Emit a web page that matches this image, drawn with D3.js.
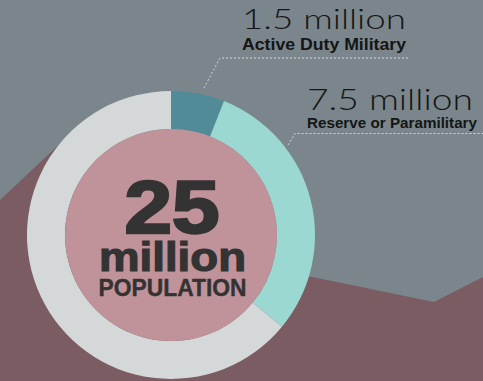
<!DOCTYPE html>
<html>
<head>
<meta charset="utf-8">
<script src="https://cdn.jsdelivr.net/npm/d3@7"></script>
<style>
  html, body { margin: 0; padding: 0; background: #7a868b; }
  svg { display: block; }
</style>
</head>
<body>
<svg id="chart" width="483" height="381"></svg>
<script>
// ---- data ----
const categories = ["Active Duty Military", "Reserve or Paramilitary", "Rest of Population"];
const values = [1.5, 7.5, 16];
const valueLabels = ["1.5 million", "7.5 million"];
const totalValue = "25";
const totalUnit = "million";
const totalLabel = "POPULATION";
const colors = ["#528b98", "#9bd8d2", "#d4d8d9"];

// ---- layout ----
const W = 483, H = 381;
const cx = 171, cy = 235, rOuter = 144, rInner = 106;
const svg = d3.select("#chart");

// background landscape shape
const landPts = [[0, 200], [75, 129.5], [171, 235], [305, 275.6], [434, 302], [483, 277], [483, 381], [0, 381]];
svg.append("rect").attr("width", W).attr("height", H).attr("fill", "#7a868b");
svg.append("path").attr("d", d3.line()(landPts) + "Z").attr("fill", "#7b5c62");

const g = svg.append("g").attr("transform", `translate(${cx},${cy})`);

const pie = d3.pie().sort(null).value(d => d)(values);
const arc = d3.arc().innerRadius(rInner).outerRadius(rOuter);

g.selectAll("path.slice").data(pie).join("path")
  .attr("class", "slice")
  .attr("d", arc)
  .attr("fill", (d, i) => colors[i]);

g.append("circle").attr("r", rInner).attr("fill", "#c0939a");

// center text
const dark = "#333333";
g.append("text").text(totalValue)
  .attr("x", 1).attr("y", -2)
  .attr("text-anchor", "middle")
  .attr("font-family", "Liberation Sans, Arial, sans-serif")
  .attr("font-weight", "bold").attr("font-size", 74)
  .attr("textLength", 95).attr("lengthAdjust", "spacingAndGlyphs")
  .attr("fill", dark).attr("stroke", dark).attr("stroke-width", 2.5);
g.append("text").text(totalUnit)
  .attr("x", 1.5).attr("y", 35.5)
  .attr("text-anchor", "middle")
  .attr("font-family", "Liberation Sans, Arial, sans-serif")
  .attr("font-weight", "bold").attr("font-size", 40)
  .attr("textLength", 147).attr("lengthAdjust", "spacingAndGlyphs")
  .attr("fill", dark).attr("stroke", dark).attr("stroke-width", 1.2);
g.append("text").text(totalLabel)
  .attr("x", 1.5).attr("y", 61)
  .attr("text-anchor", "middle")
  .attr("font-family", "Liberation Sans, Arial, sans-serif")
  .attr("font-weight", "bold").attr("font-size", 24)
  .attr("textLength", 148).attr("lengthAdjust", "spacingAndGlyphs")
  .attr("fill", dark).attr("stroke", dark).attr("stroke-width", 0.4);

// callout labels
const callouts = [
  { x: 242, w1: 164, y1: 29, fs1: 27, y2: 49.5, w2: 164, fs2: 16, line: [[204, 88], [220, 58], [408, 58]] },
  { x: 307, w1: 166, y1: 110, fs1: 30, y2: 127.5, w2: 170, fs2: 14.5, line: [[288, 145], [295, 133.5], [483, 133.5]] }
];
callouts.forEach((c, i) => {
  svg.append("text").text(valueLabels[i])
    .attr("x", c.x).attr("y", c.y1)
    .attr("font-family", "Lato, 'Open Sans', sans-serif")
    .attr("font-weight", 300).attr("font-size", c.fs1)
    .attr("textLength", c.w1).attr("lengthAdjust", "spacingAndGlyphs")
    .attr("fill", "#151515");
  svg.append("text").text(categories[i])
    .attr("x", c.x).attr("y", c.y2)
    .attr("font-family", "Liberation Sans, Arial, sans-serif")
    .attr("font-weight", "bold").attr("font-size", c.fs2)
    .attr("textLength", c.w2).attr("lengthAdjust", "spacingAndGlyphs")
    .attr("fill", "#151515");
  svg.append("path").attr("d", d3.line()(c.line))
    .attr("fill", "none").attr("stroke", "#d2d6d8")
    .attr("stroke-width", 1).attr("stroke-dasharray", "2,2");
});
</script>
</body>
</html>
